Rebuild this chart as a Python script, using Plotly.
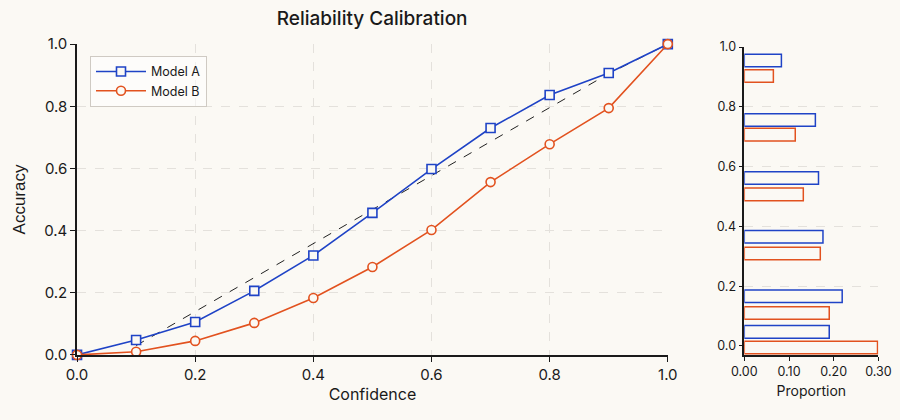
import plotly.graph_objects as go

# ---- data ----
confidence = [0.0, 0.1, 0.2, 0.3, 0.4, 0.5, 0.6, 0.7, 0.8, 0.9, 1.0]
acc_model_a = [0.0, 0.048, 0.106, 0.206, 0.32, 0.457, 0.598, 0.73, 0.836, 0.907, 1.0]
acc_model_b = [0.0, 0.01, 0.045, 0.103, 0.183, 0.283, 0.402, 0.556, 0.678, 0.794, 1.0]

ref_x = [0.1, 0.9, 1.0]
ref_y = [0.03, 0.905, 1.0]

hist_pos_a = [0.955, 0.756, 0.562, 0.365, 0.166, 0.047]
hist_pos_b = [0.903, 0.707, 0.507, 0.309, 0.11, -0.005]
hist_prop_a = [0.083, 0.159, 0.166, 0.176, 0.219, 0.19]
hist_prop_b = [0.065, 0.114, 0.132, 0.17, 0.19, 0.298]

BLUE = "#1f43c6"
ORANGE = "#e2521f"
BG = "#fbf9f4"
FONT = "Inter"
INK = "#1a1a1a"

fig = go.Figure()

fig.add_trace(go.Scatter(
    x=ref_x, y=ref_y, mode="lines",
    line=dict(color="#222222", width=1, dash="dash"),
    showlegend=False, hoverinfo="skip", xaxis="x", yaxis="y"))

fig.add_trace(go.Scatter(
    x=confidence, y=acc_model_a, mode="lines+markers", name="Model A",
    line=dict(color=BLUE, width=1.6),
    marker=dict(symbol="square", size=9, color=BG, line=dict(color=BLUE, width=1.6)),
    cliponaxis=False, xaxis="x", yaxis="y"))

fig.add_trace(go.Scatter(
    x=confidence, y=acc_model_b, mode="lines+markers", name="Model B",
    line=dict(color=ORANGE, width=1.6),
    marker=dict(symbol="circle", size=9, color=BG, line=dict(color=ORANGE, width=1.6)),
    cliponaxis=False, xaxis="x", yaxis="y"))

fig.add_trace(go.Bar(
    x=hist_prop_a, y=hist_pos_a, orientation="h", width=0.042,
    marker=dict(color=BG, line=dict(color=BLUE, width=1.5)),
    showlegend=False, xaxis="x2", yaxis="y2"))

fig.add_trace(go.Bar(
    x=hist_prop_b, y=hist_pos_b, orientation="h", width=0.042,
    marker=dict(color=BG, line=dict(color=ORANGE, width=1.5)),
    showlegend=False, xaxis="x2", yaxis="y2"))

grid = dict(showgrid=True, gridcolor="#e4e1dc", griddash="dash", gridwidth=1)
axline = dict(showline=True, linecolor=INK, linewidth=1.5, ticks="outside",
              tickcolor=INK, zeroline=False, automargin=False)

fig.update_layout(
    width=900, height=420,
    paper_bgcolor=BG, plot_bgcolor=BG,
    margin=dict(l=0, r=0, t=0, b=0),
    font=dict(family=FONT, color=INK),
    barmode="overlay",
    title=dict(text="Reliability Calibration", x=0.4135, xanchor="center",
               y=0.957, yanchor="middle",
               font=dict(size=19, color=INK, family=FONT, weight=500)),
    xaxis=dict(domain=[0.0856, 0.742], range=[0, 1], tickvals=[0, 0.2, 0.4, 0.6, 0.8, 1.0],
               tickformat=".1f", ticklen=5, tickfont=dict(size=15),
               title=dict(text="Confidence", font=dict(size=16), standoff=6),
               **axline, **grid),
    yaxis=dict(domain=[0.155, 0.895], range=[0, 1], tickvals=[0, 0.2, 0.4, 0.6, 0.8, 1.0],
               tickformat=".1f", ticklen=5, tickfont=dict(size=15),
               title=dict(text="Accuracy", font=dict(size=17, family="Liberation Sans"),
                          standoff=14),
               **axline, **grid),
    xaxis2=dict(domain=[0.827, 0.976], range=[0, 0.3], tickvals=[0, 0.1, 0.2, 0.3],
                tickformat=".2f", ticklen=4, anchor="y2", tickfont=dict(size=12.5),
                showgrid=False,
                title=dict(text="Proportion", font=dict(size=14), standoff=9),
                **axline),
    yaxis2=dict(domain=[0.155, 0.888], range=[-0.03, 1.0], tickvals=[0, 0.2, 0.4, 0.6, 0.8, 1.0],
                tickformat=".1f", ticklen=4, anchor="x2", tickfont=dict(size=12.5),
                **axline, **grid),
    legend=dict(x=0.1, y=0.867, xanchor="left", yanchor="top",
                bgcolor="rgba(255,255,255,0.5)", bordercolor="#cfcac3", borderwidth=1,
                font=dict(size=12.5), itemwidth=50, tracegroupgap=4),
)

fig.write_html("out.html")
